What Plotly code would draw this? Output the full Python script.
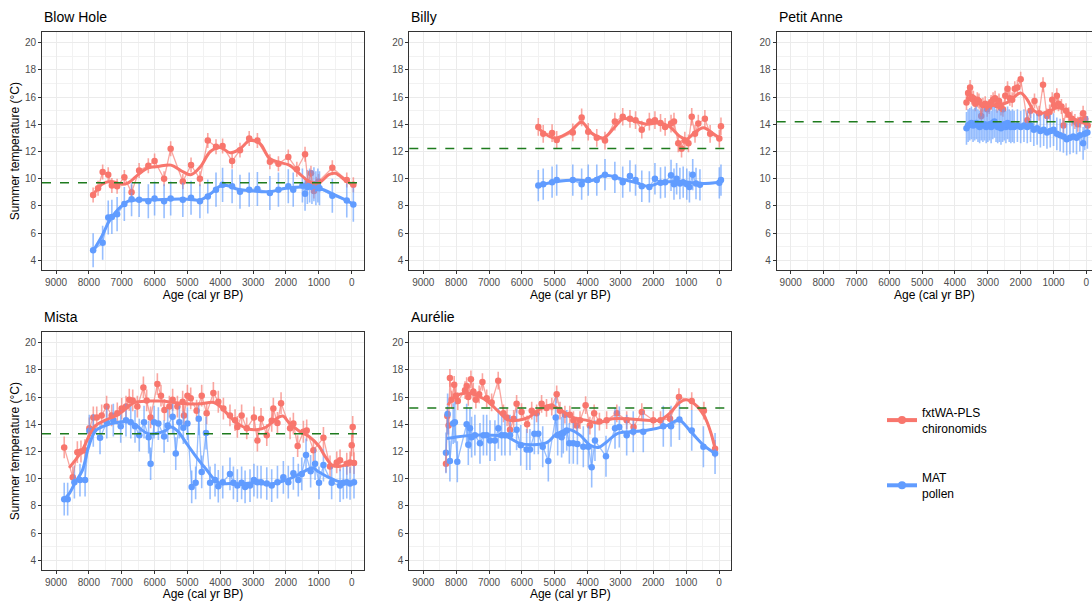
import plotly.graph_objects as go

# ---------------- data ----------------
sites = ["Blow Hole", "Billy", "Petit Anne", "Mista", "Aurélie"]
series_names = ["fxtWA-PLS<br>chironomids", "MAT<br>pollen"]

# Blow Hole
bh_chiro_age = [7870, 7720, 7580, 7410, 7300, 7140, 6920, 6700, 6470, 6190, 6000, 5710, 5510, 5140, 4890,
                4620, 4380, 4130, 3930, 3640, 3400, 3120, 2870, 2490, 2230, 1930, 1670, 1420, 1330, 1240,
                1150, 1080, 1010, 590, 150, -50]
bh_chiro_temp = [8.8, 9.3, 10.5, 10.3, 9.5, 9.45, 10.1, 9.0, 10.6, 10.95, 11.3, 10.0, 12.2, 9.8, 11.0,
                 10.0, 12.8, 12.35, 12.4, 11.3, 12.1, 12.95, 12.8, 11.25, 11.1, 11.6, 10.7, 11.8, 9.7, 10.4,
                 9.1, 9.6, 9.8, 10.8, 9.9, 9.55]
bh_pollen_age = [7870, 7580, 7410, 7300, 7140, 6920, 6700, 6470, 6190, 6000, 5710, 5510, 5140, 4890, 4620,
                 4380, 4130, 3930, 3640, 3400, 3120, 2870, 2490, 2230, 1930, 1780, 1500, 1420, 1350, 1280,
                 1210, 1150, 1090, 1030, 980, 590, 150, -50]
bh_pollen_temp = [4.75, 5.3, 7.15, 7.2, 7.4, 8.15, 8.5, 8.45, 8.35, 8.55, 8.35, 8.55, 8.45, 8.6, 8.35,
                  8.7, 9.2, 9.55, 9.45, 9.05, 9.2, 9.25, 8.95, 9.2, 9.45, 9.2, 9.5, 8.9, 9.4, 9.5,
                  9.4, 9.6, 9.3, 9.5, 9.3, 8.75, 8.4, 8.1]
bh_chiro_smooth_age = [7870, 7600, 7300, 7000, 6800, 6500, 6200, 5900, 5500, 5200, 4900, 4600, 4300, 4000,
                       3700, 3400, 3100, 2800, 2500, 2200, 1900, 1600, 1300, 1000, 700, 500, 200, -50]
bh_chiro_smooth = [8.8, 9.6, 9.8, 9.6, 9.7, 10.3, 10.8, 10.9, 11.0, 10.6, 10.3, 10.9, 12.0, 12.3,
                   11.9, 12.2, 12.8, 12.6, 11.5, 11.2, 11.0, 10.4, 9.8, 9.7, 10.3, 10.4, 9.9, 9.5]
bh_pollen_smooth_age = [7870, 7600, 7400, 7200, 7000, 6800, 6500, 6000, 5500, 5000, 4600, 4300, 4000, 3800,
                        3500, 3000, 2500, 2000, 1500, 1000, 500, 0, -50]
bh_pollen_smooth = [4.7, 5.8, 6.8, 7.5, 8.0, 8.35, 8.45, 8.45, 8.5, 8.5, 8.45, 8.9, 9.45, 9.5,
                    9.25, 9.1, 9.05, 9.3, 9.4, 9.3, 8.8, 8.2, 8.1]

# Billy
bi_chiro_age = [5500, 5350, 5080, 4940, 4450, 4180, 3980, 3720, 3470, 3170, 2930, 2710, 2540, 2350, 2120,
                1950, 1780, 1640, 1460, 1370, 1240, 1140, 1040, 930, 830, 730, 630, 430, 270, -10, -60]
bi_chiro_temp = [13.8, 13.3, 13.35, 12.85, 13.4, 14.5, 13.45, 13.0, 12.8, 14.2, 14.55, 14.4, 14.3, 13.6, 14.2,
                 14.3, 14.1, 13.8, 14.05, 14.2, 12.6, 12.2, 12.8, 12.6, 14.55, 13.3, 14.05, 14.4, 13.3, 12.95, 13.85]
bi_pollen_age = [5500, 5350, 5080, 4940, 4450, 4180, 3980, 3720, 3470, 3170, 2930, 2710, 2540, 2350, 2120,
                 1950, 1780, 1640, 1460, 1370, 1290, 1190, 1090, 980, 900, 800, 700, 580, -10, -60]
bi_pollen_temp = [9.5, 9.6, 9.75, 9.9, 9.9, 9.6, 9.9, 9.9, 10.3, 10.1, 9.75, 10.2, 9.9, 9.45, 9.4,
                  10.0, 9.7, 9.75, 10.25, 9.6, 10.0, 9.65, 9.75, 9.6, 9.4, 10.3, 9.65, 9.55, 9.7, 9.9]
bi_chiro_smooth_age = [5500, 5150, 4940, 4540, 4180, 3880, 3520, 3170, 2910, 2510, 2200, 1800, 1490, 1190,
                       980, 780, 480, 170, -60]
bi_chiro_smooth = [13.7, 13.1, 13.0, 13.45, 14.15, 13.35, 13.0, 13.8, 14.4, 14.2, 14.0, 14.1, 13.8, 13.1,
                   12.9, 13.3, 13.75, 13.3, 12.9]
bi_pollen_smooth_age = [5500, 4940, 4330, 3900, 3470, 2910, 2510, 2150, 1800, 1190, 580, -60]
bi_pollen_smooth = [9.5, 9.8, 9.9, 9.85, 10.25, 9.95, 9.7, 9.45, 9.7, 9.8, 9.65, 9.75]

# Petit Anne
pa_chiro_age = [3650, 3600, 3540, 3490, 3440, 3380, 3320, 3270, 3200, 3150, 3080, 3020, 2960, 2900, 2840,
                2780, 2720, 2660, 2600, 2540, 2470, 2400, 2330, 2260, 2180, 2100, 2000, 1800, 1700, 1580,
                1440, 1320, 1200, 1120, 1040, 980, 900, 850, 760, 700, 620, 540, 440, 350, 260, 180, 100,
                40, -40]
pa_chiro_temp = [15.6, 16.3, 16.7, 16.0, 15.9, 15.5, 15.8, 15.7, 14.6, 15.4, 15.5, 15.1, 15.3, 15.6, 15.8,
                 15.9, 15.4, 15.7, 15.2, 15.1, 16.1, 16.6, 15.9, 15.8, 16.6, 16.7, 17.3, 14.3, 15.0, 15.7,
                 14.8, 16.9, 14.6, 14.9, 15.8, 15.4, 16.1, 15.5, 15.3, 13.9, 15.0, 14.7, 14.4, 14.2, 14.0,
                 14.3, 14.8, 14.4, 13.9]
pa_pollen_age = [3650, 3600, 3550, 3500, 3450, 3400, 3350, 3300, 3250, 3200, 3150, 3100, 3050, 3000, 2950,
                 2900, 2850, 2800, 2750, 2700, 2650, 2600, 2550, 2500, 2450, 2400, 2350, 2300, 2250, 2200,
                 2100, 2000, 1900, 1800, 1700, 1600, 1500, 1400, 1300, 1200, 1100, 1000, 900, 800, 700,
                 600, 500, 400, 300, 200, 100, 50, -30]
pa_pollen_temp = [13.7, 13.9, 14.0, 14.1, 13.9, 14.0, 14.1, 13.9, 13.8, 14.0, 13.9, 14.0, 13.8, 13.9, 14.0,
                  13.8, 14.1, 14.2, 13.9, 13.8, 13.9, 13.7, 13.9, 14.0, 13.8, 14.1, 13.9, 13.8, 13.9, 13.8,
                  13.9, 13.8, 13.9, 13.8, 13.9, 13.6, 13.7, 13.5, 13.6, 13.4, 13.5, 13.6, 13.3, 13.2, 13.1,
                  12.9, 13.0, 13.1, 13.0, 13.2, 12.6, 13.3, 13.4]
pa_chiro_smooth_age = [3650, 3400, 3000, 2700, 2400, 2200, 2000, 1800, 1600, 1400, 1100, 900, 700, 500, 300,
                       100, -50]
pa_chiro_smooth = [16.0, 15.6, 15.4, 15.4, 15.6, 16.0, 16.3, 15.8, 15.0, 14.8, 15.0, 15.2, 15.1, 14.6, 14.3,
                   14.1, 14.0]
pa_pollen_smooth_age = [3650, 3400, 3000, 2500, 2000, 1600, 1300, 1000, 700, 500, 300, 100, -50]
pa_pollen_smooth = [13.75, 14.0, 13.9, 13.9, 13.85, 13.75, 13.55, 13.4, 13.1, 13.0, 13.05, 13.2, 13.3]

# Mista
mi_chiro_age = [8750, 8490, 8350, 8240, 8120, 7985, 7865, 7760, 7610, 7460, 7305, 7135, 7000, 6870, 6770,
                6665, 6525, 6340, 6240, 6120, 5915, 5805, 5700, 5550, 5450, 5305, 5145, 5105, 5000, 4900,
                4720, 4565, 4415, 4210, 4060, 3905, 3705, 3550, 3480, 3350, 3195, 2975, 2870, 2760, 2585,
                2435, 2385, 2260, 2150, 1875, 1775, 1645, 1470, 1370, 1165, 860, 660, 455, 355, 150, 50,
                0, -30, -70]
mi_chiro_temp = [12.3, 10.1, 11.95, 12.0, 12.1, 13.7, 14.5, 14.5, 14.65, 15.3, 14.65, 14.8, 15.15, 15.3, 15.8,
                 15.75, 15.3, 16.7, 15.75, 14.5, 16.95, 16.1, 15.05, 15.3, 15.8, 15.3, 15.65, 14.65, 16.1, 15.9,
                 15.0, 16.1, 14.8, 16.3, 15.65, 15.15, 14.65, 14.3, 13.8, 14.65, 13.7, 14.5, 12.8, 14.4, 13.2,
                 14.25, 15.15, 14.1, 15.55, 13.7, 14.05, 12.4, 13.45, 13.55, 12.1, 13.0, 10.9, 11.2, 11.35,
                 11.1, 11.2, 12.45, 13.8, 11.15]
mi_pollen_age = [8750, 8645, 8440, 8270, 8115, 7985, 7865, 7660, 7455, 7255, 7030, 6870, 6725, 6595, 6465,
                 6320, 6180, 6120, 6015, 5885, 5710, 5600, 5450, 5355, 5245, 5125, 5000, 4870, 4750, 4655,
                 4565, 4435, 4310, 4160, 4060, 3925, 3705, 3600, 3480, 3350, 3245, 3095, 2975, 2870, 2760,
                 2585, 2435, 2260, 2080, 1930, 1775, 1625, 1520, 1390, 1250, 1115, 995, 860, 610, 355, 255,
                 150, 50, -70]
mi_pollen_temp = [8.5, 8.5, 9.75, 9.9, 9.9, 13.5, 13.55, 13.0, 14.15, 14.3, 13.85, 14.3, 14.15, 13.85, 13.2,
                  14.15, 13.05, 11.1, 14.15, 14.05, 13.1, 13.9, 14.55, 11.85, 14.15, 13.75, 14.05, 9.4, 9.7, 14.4,
                  10.5, 13.35, 9.7, 9.9, 9.45, 9.75, 10.35, 9.7, 9.5, 9.7, 9.4, 9.5, 9.9, 9.75, 9.75,
                  9.65, 9.5, 9.75, 10.1, 9.75, 10.4, 9.9, 10.35, 11.75, 10.55, 11.1, 9.7, 11.0, 9.7, 9.5, 9.7,
                  9.75, 9.65, 9.75]
mi_chiro_smooth_age = [8600, 8400, 8200, 8000, 7800, 7500, 7200, 7000, 6800, 6600, 6200, 5800, 5400, 5000,
                       4600, 4200, 4000, 3800, 3500, 3200, 2900, 2600, 2300, 2100, 1900, 1600, 1300, 1000,
                       800, 600, 400, 200, 0, -70]
mi_chiro_smooth = [10.8, 11.4, 12.1, 13.1, 13.9, 14.3, 14.6, 14.9, 15.3, 15.6, 15.7, 15.7, 15.6, 15.5,
                   15.5, 15.6, 15.3, 14.8, 14.1, 13.7, 13.6, 13.8, 14.4, 14.6, 14.1, 13.5, 13.1, 12.4,
                   11.6, 11.0, 10.9, 11.0, 11.2, 11.2]
mi_pollen_smooth_age = [8750, 8600, 8400, 8200, 8000, 7800, 7500, 7200, 6900, 6600, 6400, 6200, 6000, 5700,
                        5500, 5300, 5000, 4700, 4400, 4200, 4000, 3700, 3400, 3000, 2500, 2000, 1700, 1400,
                        1200, 1000, 700, 400, 100, -70]
mi_pollen_smooth = [8.5, 8.9, 9.8, 10.6, 12.4, 13.5, 13.9, 14.1, 14.2, 14.0, 13.6, 13.3, 13.3, 13.5,
                    13.8, 13.5, 12.5, 11.5, 10.6, 10.0, 9.65, 9.65, 9.6, 9.7, 9.6, 9.9, 10.2, 10.6,
                    10.8, 10.5, 10.1, 9.8, 9.7, 9.75]

# Aurélie
au_chiro_age = [8310, 8270, 8230, 8190, 8140, 8060, 8010, 7950, 7730, 7680, 7630, 7550, 7480, 7400, 7300,
                7200, 7070, 6920, 6720, 6560, 6450, 6360, 6250, 6160, 6010, 5840, 5700, 5550, 5400, 5250,
                5090, 4940, 4840, 4690, 4540, 4430, 4330, 4230, 4060, 3930, 3800, 3640, 3420, 3110, 2810,
                2600, 2350, 2000, 1780, 1490, 1220, 830, 460, 120]
au_chiro_temp = [11.1, 14.6, 13.9, 17.4, 15.8, 16.9, 16.1, 15.7, 16.5, 16.8, 16.0, 17.3, 16.4, 15.8, 16.2,
                 17.1, 15.9, 15.6, 17.2, 14.8, 14.5, 13.6, 14.4, 15.5, 14.9, 14.0, 15.0, 14.8, 15.5, 15.2,
                 15.3, 16.2, 15.0, 14.7, 14.7, 14.3, 13.9, 14.3, 15.4, 13.9, 14.8, 14.2, 14.3, 14.8, 14.3,
                 13.8, 14.9, 14.3, 14.3, 14.4, 16.0, 15.7, 15.0, 12.2]
au_pollen_age = [8310, 8260, 8190, 8090, 8040, 7965, 7680, 7630, 7580, 7530, 7430, 7275, 7170, 7070, 6970,
                 6820, 6715, 6615, 6515, 6360, 6160, 6035, 5855, 5755, 5620, 5500, 5365, 5195, 4970, 4910,
                 4790, 4740, 4635, 4555, 4435, 4310, 4130, 3975, 3875, 3775, 3440, 3165, 3035, 2810, 2610,
                 2305, 1695, 1460, 1205, 830, 475, 120]
au_pollen_temp = [11.9, 14.75, 11.3, 14.05, 14.15, 11.25, 14.0, 12.5, 13.7, 13.05, 13.2, 12.6, 13.2, 13.2, 12.8,
                  12.8, 13.7, 13.2, 13.2, 13.2, 13.6, 12.45, 12.15, 12.15, 13.3, 13.3, 12.35, 11.3, 14.5, 13.2,
                  13.05, 13.35, 13.55, 12.6, 12.6, 12.55, 12.35, 12.35, 10.85, 12.8, 11.65, 13.7, 13.8, 13.2, 13.45,
                  13.45, 13.85, 13.85, 14.35, 13.55, 12.35, 11.85]
au_chiro_smooth_age = [8250, 8050, 7700, 7350, 7000, 6700, 6400, 6100, 5800, 5450, 5150, 4850, 4450, 4050,
                       3700, 3250, 2800, 2200, 1800, 1500, 1200, 1000, 750, 450, 250, 120]
au_chiro_smooth = [15.4, 16.0, 16.3, 16.1, 15.6, 14.9, 14.3, 14.3, 14.5, 15.1, 15.4, 15.1, 14.5, 14.3,
                   14.1, 14.4, 14.4, 14.3, 14.3, 14.8, 15.6, 15.8, 15.5, 14.6, 13.4, 12.2]
au_pollen_smooth_age = [8280, 8000, 7480, 6970, 6460, 6060, 5650, 5245, 4940, 4535, 4230, 3920, 3670, 3420,
                        3110, 2710, 2200, 1590, 1210, 880, 470, 120]
au_pollen_smooth = [12.95, 13.07, 13.2, 13.2, 13.07, 12.6, 12.5, 12.65, 13.3, 13.6, 13.2, 12.46, 12.3, 12.7,
                    13.3, 13.45, 13.56, 13.9, 14.3, 13.5, 12.46, 11.85]

# modern observed summer temperature (dashed line)
modern_temp = [9.7, 12.22, 14.18, 13.31, 15.2]
# typical error-bar half-width per site (chironomids, pollen)
chiro_err = [0.55, 0.65, 0.55, 0.8, 0.65]
pollen_err = [1.25, 1.15, 1.2, 1.2, 1.5]

y_tick_vals = [4, 6, 8, 10, 12, 14, 16, 18, 20]
x_tick_vals = [9000, 8000, 7000, 6000, 5000, 4000, 3000, 2000, 1000, 0]

data = {
    "Blow Hole": (bh_chiro_age, bh_chiro_temp, bh_pollen_age, bh_pollen_temp,
                  bh_chiro_smooth_age, bh_chiro_smooth, bh_pollen_smooth_age, bh_pollen_smooth),
    "Billy": (bi_chiro_age, bi_chiro_temp, bi_pollen_age, bi_pollen_temp,
              bi_chiro_smooth_age, bi_chiro_smooth, bi_pollen_smooth_age, bi_pollen_smooth),
    "Petit Anne": (pa_chiro_age, pa_chiro_temp, pa_pollen_age, pa_pollen_temp,
                   pa_chiro_smooth_age, pa_chiro_smooth, pa_pollen_smooth_age, pa_pollen_smooth),
    "Mista": (mi_chiro_age, mi_chiro_temp, mi_pollen_age, mi_pollen_temp,
              mi_chiro_smooth_age, mi_chiro_smooth, mi_pollen_smooth_age, mi_pollen_smooth),
    "Aurélie": (au_chiro_age, au_chiro_temp, au_pollen_age, au_pollen_temp,
                au_chiro_smooth_age, au_chiro_smooth, au_pollen_smooth_age, au_pollen_smooth),
}

# ---------------- styling / layout ----------------
RED = "#F8766D"
BLUE = "#619CFF"
RED_T = "rgba(248,118,109,0.65)"
BLUE_T = "rgba(97,156,255,0.65)"
GREEN = "#1E7B1E"
FONT = "Liberation Sans, Arial, Helvetica, sans-serif"

W, H = 1092, 601
col_left = [42.0, 409.3, 776.7]
panel_w = 322.0
row_top = [32.3, 332.3]
panel_h = 237.7
positions = [(0, 0), (1, 0), (2, 0), (0, 1), (1, 1)]
px_per_year = 295.7 / 9000.0
x_left_val = 9000 + 14.0 / px_per_year
y_range = [3.3, 20.75]

fig = go.Figure()
layout_axes = {}
annotations = []
shapes = []

for i, site in enumerate(sites):
    col, row = positions[i]
    n = i + 1
    xname = "x" if n == 1 else f"x{n}"
    yname = "y" if n == 1 else f"y{n}"
    ca, ct, pa, pt, csa, cs, psa, ps = data[site]

    x0 = col_left[col]
    x1 = min(x0 + panel_w, W)
    width_px = x1 - x0
    xr = [x_left_val, x_left_val - width_px / px_per_year]
    ytop = row_top[row]
    ybot = ytop + panel_h

    # error bars + points
    fig.add_trace(go.Scatter(x=ca, y=ct, mode="markers", xaxis=xname, yaxis=yname, showlegend=False,
                             marker=dict(color=RED, size=6.5),
                             error_y=dict(type="constant", value=chiro_err[i], width=0, thickness=1.6, color=RED_T),
                             hoverinfo="skip"))
    fig.add_trace(go.Scatter(x=pa, y=pt, mode="markers", xaxis=xname, yaxis=yname, showlegend=False,
                             marker=dict(color=BLUE, size=6.5),
                             error_y=dict(type="constant", value=pollen_err[i], width=0, thickness=1.6, color=BLUE_T),
                             hoverinfo="skip"))
    # thin connecting lines
    fig.add_trace(go.Scatter(x=ca, y=ct, mode="lines", xaxis=xname, yaxis=yname, showlegend=False,
                             line=dict(color=RED_T, width=1.3), hoverinfo="skip"))
    fig.add_trace(go.Scatter(x=pa, y=pt, mode="lines", xaxis=xname, yaxis=yname, showlegend=False,
                             line=dict(color=BLUE_T, width=1.3), hoverinfo="skip"))
    # smooth trends
    fig.add_trace(go.Scatter(x=csa, y=cs, mode="lines", xaxis=xname, yaxis=yname, showlegend=False,
                             line=dict(color=RED, width=3, shape="spline", smoothing=1.0), hoverinfo="skip"))
    fig.add_trace(go.Scatter(x=psa, y=ps, mode="lines", xaxis=xname, yaxis=yname, showlegend=False,
                             line=dict(color=BLUE, width=3, shape="spline", smoothing=1.0), hoverinfo="skip"))

    # modern temperature dashed line
    shapes.append(dict(type="line", xref=f"{xname} domain", yref=yname, x0=0, x1=1,
                       y0=modern_temp[i], y1=modern_temp[i],
                       line=dict(color=GREEN, width=1.5, dash="dash"), layer="above"))

    axis_key_x = "xaxis" if n == 1 else f"xaxis{n}"
    axis_key_y = "yaxis" if n == 1 else f"yaxis{n}"
    layout_axes[axis_key_x] = dict(
        domain=[x0 / W, x1 / W], range=xr, anchor=yname,
        tickmode="array", tickvals=x_tick_vals, ticktext=[str(v) for v in x_tick_vals],
        ticks="outside", ticklen=3, tickwidth=1, tickcolor="#333333",
        tickfont=dict(size=10, color="#4D4D4D", family=FONT),
        showgrid=True, gridcolor="#EBEBEB", gridwidth=1,
        minor=dict(tickvals=[v + 500 for v in x_tick_vals], showgrid=True, gridcolor="#F2F2F2", gridwidth=0.8, ticks=""),
        showline=True, linecolor="#333333", linewidth=1, mirror=True, zeroline=False,
        title=dict(text="Age (cal yr BP)", font=dict(size=12, color="black", family=FONT), standoff=0),
    )
    layout_axes[axis_key_y] = dict(
        domain=[1 - ybot / H, 1 - ytop / H], range=y_range, anchor=xname,
        tickmode="array", tickvals=y_tick_vals, ticktext=[str(v) for v in y_tick_vals],
        ticks="outside", ticklen=3, tickwidth=1, tickcolor="#333333",
        tickfont=dict(size=10, color="#4D4D4D", family=FONT),
        showgrid=True, gridcolor="#EBEBEB", gridwidth=1,
        minor=dict(tickvals=[v + 1 for v in y_tick_vals], showgrid=True, gridcolor="#F2F2F2", gridwidth=0.8, ticks=""),
        showline=True, linecolor="#333333", linewidth=1, mirror=(col != 2), zeroline=False,
        title=dict(text="Summer temperature (°C)" if col == 0 else "",
                   font=dict(size=12, color="black", family=FONT), standoff=2),
    )
    annotations.append(dict(text=site, xref="paper", yref="paper", x=x0 / W, y=1 - (ytop - 15.3) / H,
                            xanchor="left", yanchor="middle", showarrow=False,
                            font=dict(size=14, color="black", family=FONT)))

# legend entries
fig.add_trace(go.Scatter(x=[None], y=[None], mode="lines+markers", name=series_names[0], legendgroup="c",
                         line=dict(color=RED, width=4), marker=dict(color=RED, size=8)))
fig.add_trace(go.Scatter(x=[None], y=[None], mode="lines+markers", name=series_names[1], legendgroup="p",
                         line=dict(color=BLUE, width=4), marker=dict(color=BLUE, size=8)))

fig.update_layout(
    width=W, height=H, autosize=False,
    margin=dict(l=0, r=0, t=0, b=0),
    paper_bgcolor="white", plot_bgcolor="white",
    font=dict(family=FONT, color="black"),
    annotations=annotations, shapes=shapes,
    showlegend=True,
    legend=dict(x=882 / W, y=1 - 398 / H, xanchor="left", yanchor="top",
                font=dict(size=12, color="black", family=FONT),
                tracegroupgap=31, itemwidth=30, bgcolor="rgba(0,0,0,0)"),
    **layout_axes,
)

fig.write_html("out.html", config={"displayModeBar": False},
               post_script="document.body.style.margin='0';document.body.style.overflow='hidden';")
